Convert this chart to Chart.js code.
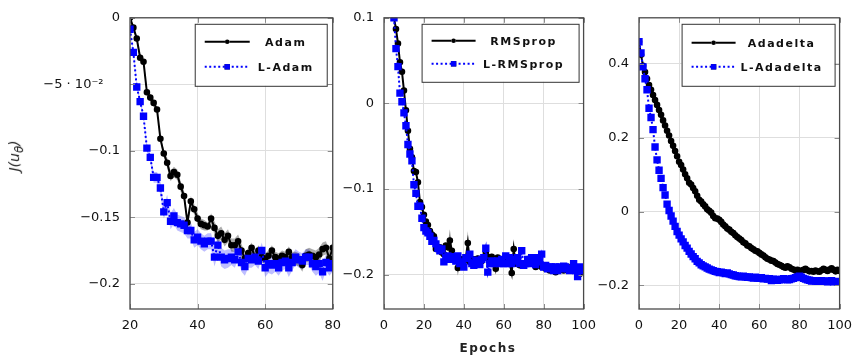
<!DOCTYPE html>
<html lang="en">
<head>
<meta charset="UTF-8">
<title>optimizer comparison</title>
<style>
  body { margin: 0; background: #fff; }
  #wrap { position: relative; width: 861px; height: 357px; overflow: hidden; font-family: "DejaVu Sans", sans-serif; }
  canvas { position: absolute; top: 0; }
  #ytitle { position: absolute; left: -14px; top: 146px; width: 60px; text-align: center; transform: rotate(-90deg); font-style: italic; font-size: 14px; color: #222; }
  #xtitle { position: absolute; left: 438px; top: 341px; width: 100px; text-align: center; font-weight: bold; font-size: 12px; letter-spacing: 1.5px; color: #222; }
</style>
</head>
<body>
<div id="wrap">
  <canvas id="c1" style="left:0px" width="350" height="357"></canvas>
  <canvas id="c2" style="left:330px" width="275" height="357"></canvas>
  <canvas id="c3" style="left:580px" width="281" height="357"></canvas>
  <div id="ytitle">J(u<sub>θ</sub>)</div>
  <div id="xtitle">Epochs</div>
</div>
<script src="https://cdn.jsdelivr.net/npm/chart.js@4.4.1/dist/chart.umd.min.js"></script>
<script>
// ---- panel 1: Adam vs L-Adam, epochs 20..80
const adamStart = 20;
const adamMean = [0, -0.0074, -0.0156, -0.030, -0.033, -0.056, -0.060, -0.064, -0.069, -0.091,
  -0.102, -0.109, -0.119, -0.116, -0.118, -0.127, -0.134, -0.154, -0.138, -0.144,
  -0.151, -0.155, -0.156, -0.157, -0.151, -0.158, -0.164, -0.162, -0.167, -0.164,
  -0.171, -0.171, -0.168, -0.175, -0.181, -0.177, -0.173, -0.180, -0.175, -0.180,
  -0.181, -0.179, -0.175, -0.180, -0.181, -0.179, -0.180, -0.176, -0.180, -0.181,
  -0.182, -0.186, -0.179, -0.178, -0.179, -0.180, -0.178, -0.174, -0.173, -0.181,
  -0.173];
const adamStd = [0.001, 0.002, 0.002, 0.003, 0.003, 0.003, 0.003, 0.003, 0.002, 0.002,
  0.003, 0.004, 0.004, 0.004, 0.004, 0.004, 0.004, 0.004, 0.004, 0.004,
  0.004, 0.004, 0.004, 0.003, 0.004, 0.005, 0.005, 0.005, 0.005, 0.005,
  0.005, 0.005, 0.005, 0.005, 0.004, 0.004, 0.004, 0.004, 0.004, 0.004,
  0.004, 0.004, 0.004, 0.004, 0.004, 0.004, 0.004, 0.004, 0.004, 0.005,
  0.005, 0.005, 0.005, 0.005, 0.005, 0.005, 0.005, 0.005, 0.005, 0.006,
  0.005];
const lAdamMean = [-0.0086, -0.026, -0.052, -0.063, -0.074, -0.098, -0.105, -0.120, -0.120, -0.128,
  -0.146, -0.139, -0.153, -0.149, -0.154, -0.155, -0.156, -0.160, -0.160, -0.167,
  -0.165, -0.168, -0.170, -0.168, -0.168, -0.180, -0.171, -0.180, -0.182, -0.181,
  -0.180, -0.182, -0.176, -0.184, -0.187, -0.181, -0.182, -0.180, -0.183, -0.175,
  -0.188, -0.185, -0.186, -0.185, -0.188, -0.184, -0.183, -0.188, -0.184, -0.180,
  -0.182, -0.183, -0.180, -0.180, -0.185, -0.187, -0.185, -0.191, -0.184, -0.188,
  -0.185];
const lAdamStd = [0.001, 0.002, 0.002, 0.002, 0.002, 0.003, 0.003, 0.004, 0.004, 0.005,
  0.005, 0.006, 0.006, 0.006, 0.006, 0.006, 0.006, 0.006, 0.006, 0.006,
  0.006, 0.006, 0.006, 0.006, 0.006, 0.007, 0.007, 0.007, 0.007, 0.007,
  0.006, 0.006, 0.006, 0.007, 0.007, 0.007, 0.006, 0.006, 0.006, 0.006,
  0.007, 0.007, 0.007, 0.006, 0.006, 0.006, 0.006, 0.007, 0.006, 0.006,
  0.006, 0.006, 0.006, 0.006, 0.006, 0.007, 0.007, 0.007, 0.006, 0.006,
  0.006];
const xTicks1 = [20, 40, 60, 80];
const yTicks1 = [0, -0.05, -0.1, -0.15, -0.2];
const yLabels1 = ['0', '\u22125 \u00b7 10\u207b\u00b2\u00a0\u00a0\u00a0\u00a0', '\u22120.1', '\u22120.15', '\u22120.2'];

// ---- panel 2: RMSprop vs L-RMSprop, epochs 5..100
const rmsStart = 5;
const rmsMean = [0.100, 0.087, 0.070, 0.048, 0.037, 0.015, -0.008, -0.032, -0.053, -0.063,
  -0.079, -0.080, -0.092, -0.115, -0.121, -0.130, -0.138, -0.142, -0.149, -0.153,
  -0.155, -0.170, -0.170, -0.168, -0.174, -0.176, -0.166, -0.168, -0.160, -0.172,
  -0.180, -0.182, -0.192, -0.184, -0.182, -0.184, -0.180, -0.163, -0.185, -0.182,
  -0.182, -0.185, -0.181, -0.185, -0.184, -0.180, -0.174, -0.179, -0.184, -0.179,
  -0.182, -0.193, -0.180, -0.184, -0.185, -0.182, -0.184, -0.180, -0.187, -0.198,
  -0.170, -0.187, -0.184, -0.189, -0.187, -0.189, -0.187, -0.184, -0.181, -0.187,
  -0.185, -0.191, -0.189, -0.185, -0.191, -0.189, -0.193, -0.191, -0.195, -0.193,
  -0.194, -0.197, -0.195, -0.193, -0.194, -0.195, -0.193, -0.191, -0.194, -0.193,
  -0.191, -0.195, -0.197, -0.199, -0.193, -0.195];
const rmsStd = [0.001, 0.002, 0.002, 0.002, 0.002, 0.002, 0.002, 0.002, 0.002, 0.002,
  0.002, 0.002, 0.002, 0.003, 0.003, 0.003, 0.003, 0.003, 0.003, 0.003,
  0.003, 0.004, 0.004, 0.003, 0.004, 0.004, 0.004, 0.004, 0.013, 0.004,
  0.004, 0.004, 0.009, 0.004, 0.004, 0.004, 0.004, 0.014, 0.004, 0.004,
  0.004, 0.004, 0.004, 0.004, 0.004, 0.004, 0.004, 0.004, 0.004, 0.004,
  0.004, 0.007, 0.004, 0.004, 0.004, 0.004, 0.004, 0.004, 0.004, 0.004,
  0.012, 0.004, 0.004, 0.004, 0.004, 0.004, 0.004, 0.004, 0.004, 0.004,
  0.004, 0.003, 0.003, 0.003, 0.003, 0.003, 0.003, 0.003, 0.003, 0.003,
  0.003, 0.003, 0.003, 0.003, 0.003, 0.003, 0.003, 0.003, 0.003, 0.003,
  0.003, 0.003, 0.003, 0.003, 0.003, 0.003];
const lRmsMean = [0.100, 0.064, 0.043, 0.012, 0.002, -0.011, -0.026, -0.048, -0.059, -0.067,
  -0.095, -0.105, -0.120, -0.120, -0.134, -0.145, -0.149, -0.151, -0.155, -0.161,
  -0.160, -0.164, -0.169, -0.172, -0.170, -0.185, -0.180, -0.178, -0.182, -0.181,
  -0.179, -0.184, -0.178, -0.187, -0.185, -0.191, -0.180, -0.181, -0.176, -0.187,
  -0.189, -0.183, -0.185, -0.188, -0.182, -0.180, -0.169, -0.197, -0.187, -0.184,
  -0.187, -0.185, -0.184, -0.187, -0.182, -0.187, -0.178, -0.187, -0.180, -0.187,
  -0.182, -0.184, -0.180, -0.187, -0.172, -0.189, -0.187, -0.182, -0.187, -0.180,
  -0.184, -0.188, -0.180, -0.185, -0.176, -0.191, -0.189, -0.193, -0.191, -0.191,
  -0.195, -0.191, -0.195, -0.191, -0.193, -0.190, -0.191, -0.193, -0.195, -0.194,
  -0.187, -0.195, -0.202, -0.191, -0.195, -0.193];
const lRmsStd = [0.001, 0.002, 0.002, 0.002, 0.002, 0.002, 0.002, 0.002, 0.002, 0.002,
  0.002, 0.003, 0.003, 0.003, 0.003, 0.003, 0.003, 0.003, 0.003, 0.003,
  0.003, 0.003, 0.003, 0.003, 0.003, 0.003, 0.003, 0.003, 0.003, 0.003,
  0.003, 0.003, 0.003, 0.003, 0.003, 0.003, 0.003, 0.003, 0.003, 0.003,
  0.003, 0.003, 0.003, 0.003, 0.003, 0.003, 0.003, 0.003, 0.003, 0.003,
  0.003, 0.003, 0.003, 0.003, 0.003, 0.003, 0.003, 0.003, 0.003, 0.003,
  0.003, 0.003, 0.003, 0.003, 0.003, 0.003, 0.003, 0.003, 0.003, 0.003,
  0.003, 0.003, 0.003, 0.003, 0.003, 0.003, 0.003, 0.003, 0.003, 0.003,
  0.003, 0.003, 0.003, 0.003, 0.003, 0.003, 0.003, 0.003, 0.003, 0.003,
  0.003, 0.003, 0.003, 0.003, 0.003, 0.003];
const xTicks2 = [0, 20, 40, 60, 80, 100];
const yTicks2 = [0.1, 0, -0.1, -0.2];
const yLabels2 = ['0.1', '0', '\u22120.1', '\u22120.2'];

// ---- panel 3: Adadelta vs L-Adadelta, epochs 0..100
const adaStart = 0;
const adaMean = [0.460, 0.425, 0.395, 0.378, 0.360, 0.343, 0.330, 0.316, 0.302, 0.289,
  0.275, 0.262, 0.247, 0.233, 0.219, 0.206, 0.191, 0.178, 0.164, 0.150,
  0.135, 0.126, 0.114, 0.101, 0.090, 0.078, 0.073, 0.064, 0.055, 0.043,
  0.032, 0.027, 0.020, 0.014, 0.006, 0.002, -0.003, -0.012, -0.018, -0.019,
  -0.022, -0.028, -0.035, -0.040, -0.046, -0.049, -0.055, -0.058, -0.064, -0.069,
  -0.073, -0.077, -0.083, -0.086, -0.092, -0.094, -0.099, -0.102, -0.106, -0.108,
  -0.112, -0.116, -0.119, -0.124, -0.128, -0.130, -0.133, -0.134, -0.138, -0.142,
  -0.144, -0.147, -0.150, -0.152, -0.148, -0.151, -0.155, -0.157, -0.160, -0.158,
  -0.161, -0.160, -0.158, -0.155, -0.159, -0.162, -0.161, -0.163, -0.160, -0.162,
  -0.163, -0.159, -0.155, -0.158, -0.161, -0.157, -0.154, -0.158, -0.162, -0.158,
  -0.161];
const lAdaMean = [0.460, 0.430, 0.392, 0.360, 0.330, 0.280, 0.255, 0.222, 0.175, 0.140,
  0.112, 0.090, 0.065, 0.045, 0.020, 0.003, -0.012, -0.026, -0.040, -0.054,
  -0.064, -0.074, -0.082, -0.092, -0.099, -0.108, -0.115, -0.122, -0.128, -0.135,
  -0.139, -0.144, -0.147, -0.150, -0.153, -0.156, -0.158, -0.160, -0.162, -0.163,
  -0.165, -0.164, -0.166, -0.168, -0.166, -0.169, -0.171, -0.172, -0.174, -0.175,
  -0.176, -0.177, -0.175, -0.177, -0.178, -0.177, -0.179, -0.180, -0.178, -0.180,
  -0.181, -0.179, -0.182, -0.181, -0.183, -0.182, -0.187, -0.183, -0.184, -0.186,
  -0.185, -0.184, -0.182, -0.183, -0.185, -0.184, -0.182, -0.181, -0.179, -0.177,
  -0.175, -0.178, -0.181, -0.183, -0.185, -0.186, -0.188, -0.187, -0.188, -0.189,
  -0.188, -0.187, -0.189, -0.188, -0.190, -0.189, -0.187, -0.190, -0.189, -0.191,
  -0.192];
const xTicks3 = [0, 20, 40, 60, 80, 100];
const yTicks3 = [0.4, 0.2, 0, -0.2];
const yLabels3 = ['0.4', '0.2', '0', '\u22120.2'];

const tickFont = { family: 'DejaVu Sans', size: 13 };
const gridColor = '#dedede';

const styles = {
  black: { borderColor: '#000', backgroundColor: '#000', borderWidth: 2, pointStyle: 'circle', pointRadius: 2.3, order: 2 },
  blue: { borderColor: '#0000ff', backgroundColor: '#0000ff', borderWidth: 2, borderDash: [2, 2.5], pointStyle: 'rect', pointRadius: 3.8, order: 1 }
};

// axis box plus short inner tick marks on all four sides
const frame = {
  id: 'frame',
  afterDatasetsDraw(chart) {
    const { ctx, chartArea: a, scales } = chart;
    ctx.save();
    ctx.strokeStyle = '#8a8a8a';
    ctx.lineWidth = 1;
    ctx.beginPath();
    scales.y.ticks.forEach(t => {
      const y = Math.round(scales.y.getPixelForValue(t.value)) + 0.5;
      ctx.moveTo(a.left, y); ctx.lineTo(a.left + 5, y);
      ctx.moveTo(a.right, y); ctx.lineTo(a.right - 5, y);
    });
    scales.x.ticks.forEach(t => {
      const x = Math.round(scales.x.getPixelForValue(t.value)) + 0.5;
      ctx.moveTo(x, a.bottom); ctx.lineTo(x, a.bottom - 5);
      ctx.moveTo(x, a.top); ctx.lineTo(x, a.top + 5);
    });
    ctx.stroke();
    ctx.strokeStyle = '#4a4a4a';
    ctx.lineWidth = 1.3;
    ctx.strokeRect(a.left, a.top, a.right - a.left, a.bottom - a.top);
    ctx.restore();
  }
};

// boxed legend like the pgfplots one, drawn in the top right corner
const boxLegend = {
  id: 'boxLegend',
  afterDraw(chart, args, o) {
    const { ctx, chartArea: a } = chart;
    const x0 = a.right - o.offRight - o.w, y0 = a.top + 6;
    ctx.save();
    ctx.fillStyle = '#fff';
    ctx.fillRect(x0, y0, o.w, o.h);
    ctx.strokeStyle = '#333';
    ctx.lineWidth = 1;
    ctx.strokeRect(x0 + 0.5, y0 + 0.5, o.w, o.h);
    const items = chart.data.datasets.filter(d => d.inLegend);
    items.sort((p, q) => q.order - p.order);
    items.forEach((d, i) => {
      const y = y0 + o.rows[i];
      ctx.strokeStyle = d.borderColor;
      ctx.lineWidth = 2;
      ctx.setLineDash(d.borderDash || []);
      ctx.beginPath();
      ctx.moveTo(x0 + 10, y);
      ctx.lineTo(x0 + 10 + o.lineW, y);
      ctx.stroke();
      ctx.setLineDash([]);
      Chart.helpers.drawPoint(ctx, { pointStyle: d.pointStyle, radius: d.pointRadius, borderWidth: 0 }, x0 + 10 + o.lineW / 2, y);
      ctx.fillStyle = d.backgroundColor;
      ctx.fill();
      ctx.fillStyle = '#111';
      ctx.font = 'bold 11px "DejaVu Sans"';
      ctx.letterSpacing = '1.5px';
      ctx.textAlign = 'center';
      ctx.textBaseline = 'middle';
      ctx.fillText(d.label, x0 + o.textX, y + 1);
      ctx.letterSpacing = '0px';
    });
    ctx.restore();
  }
};

function makePanel(id, p) {
  const ds = [];
  p.series.forEach(s => {
    const pts = s.mean.map((v, i) => ({ x: p.start + i, y: v }));
    ds.push(Object.assign({ label: s.label, data: pts, inLegend: true, fill: false, tension: 0 }, styles[s.kind]));
  });
  p.series.forEach(s => {
    if (!s.std) return;
    ds.push({ data: s.mean.map((v, i) => ({ x: p.start + i, y: v + s.std[i] })), fill: '+1', backgroundColor: s.band, borderWidth: 0, pointRadius: 0, order: 5 });
    ds.push({ data: s.mean.map((v, i) => ({ x: p.start + i, y: v - s.std[i] })), fill: false, borderWidth: 0, pointRadius: 0, order: 5 });
  });
  new Chart(document.getElementById(id), {
    type: 'line',
    data: { datasets: ds },
    plugins: [frame, boxLegend],
    options: {
      responsive: false,
      animation: false,
      layout: { padding: { top: 13, right: p.padRight, bottom: 0, left: 0 } },
      plugins: { legend: { display: false }, tooltip: { enabled: false }, boxLegend: p.legend },
      scales: {
        x: {
          type: 'linear', min: p.xMin, max: p.xMax,
          afterBuildTicks: sc => { sc.ticks = p.xTicks.map(v => ({ value: v })); },
          afterFit: sc => { sc.height = 48; },
          ticks: { font: tickFont, color: '#111', padding: 9, maxRotation: 0, autoSkip: false },
          grid: { color: gridColor, drawTicks: false },
          border: { display: false }
        },
        y: {
          min: p.yMin, max: p.yMax,
          afterBuildTicks: sc => { sc.ticks = p.yTicks.map(v => ({ value: v })); },
          afterFit: sc => { sc.width = p.yWidth; },
          ticks: { font: tickFont, color: '#111', padding: 10, autoSkip: false, callback: (v, i) => p.yLabels[i] },
          grid: { color: gridColor, drawTicks: false },
          border: { display: false }
        }
      }
    }
  });
}

makePanel('c1', {
  start: adamStart, xMin: 20, xMax: 80, yMin: -0.219, yMax: 0,
  xTicks: xTicks1, yTicks: yTicks1, yLabels: yLabels1, yWidth: 130, padRight: 12,
  series: [
    { label: 'Adam', kind: 'black', mean: adamMean, std: adamStd, band: 'rgba(0,0,0,0.32)' },
    { label: 'L-Adam', kind: 'blue', mean: lAdamMean, std: lAdamStd, band: 'rgba(40,40,255,0.3)' }
  ],
  legend: { offRight: 6, w: 132, h: 62, rows: [18, 43], lineW: 45, textX: 91 }
});

makePanel('c2', {
  start: rmsStart, xMin: 0, xMax: 100, yMin: -0.24, yMax: 0.1,
  xTicks: xTicks2, yTicks: yTicks2, yLabels: yLabels2, yWidth: 54, padRight: 13,
  series: [
    { label: 'RMSprop', kind: 'black', mean: rmsMean, std: rmsStd, band: 'rgba(0,0,0,0.45)' },
    { label: 'L-RMSprop', kind: 'blue', mean: lRmsMean, std: lRmsStd, band: 'rgba(40,40,255,0.3)' }
  ],
  legend: { offRight: 5, w: 157, h: 58, rows: [17, 40], lineW: 44, textX: 102 }
});

makePanel('c3', {
  start: adaStart, xMin: 0, xMax: 100, yMin: -0.264, yMax: 0.525,
  xTicks: xTicks3, yTicks: yTicks3, yLabels: yLabels3, yWidth: 59, padRight: 15,
  series: [
    { label: 'Adadelta', kind: 'black', mean: adaMean },
    { label: 'L-Adadelta', kind: 'blue', mean: lAdaMean }
  ],
  legend: { offRight: 5, w: 153, h: 62, rows: [19, 43], lineW: 44, textX: 100 }
});
</script>
</body>
</html>
